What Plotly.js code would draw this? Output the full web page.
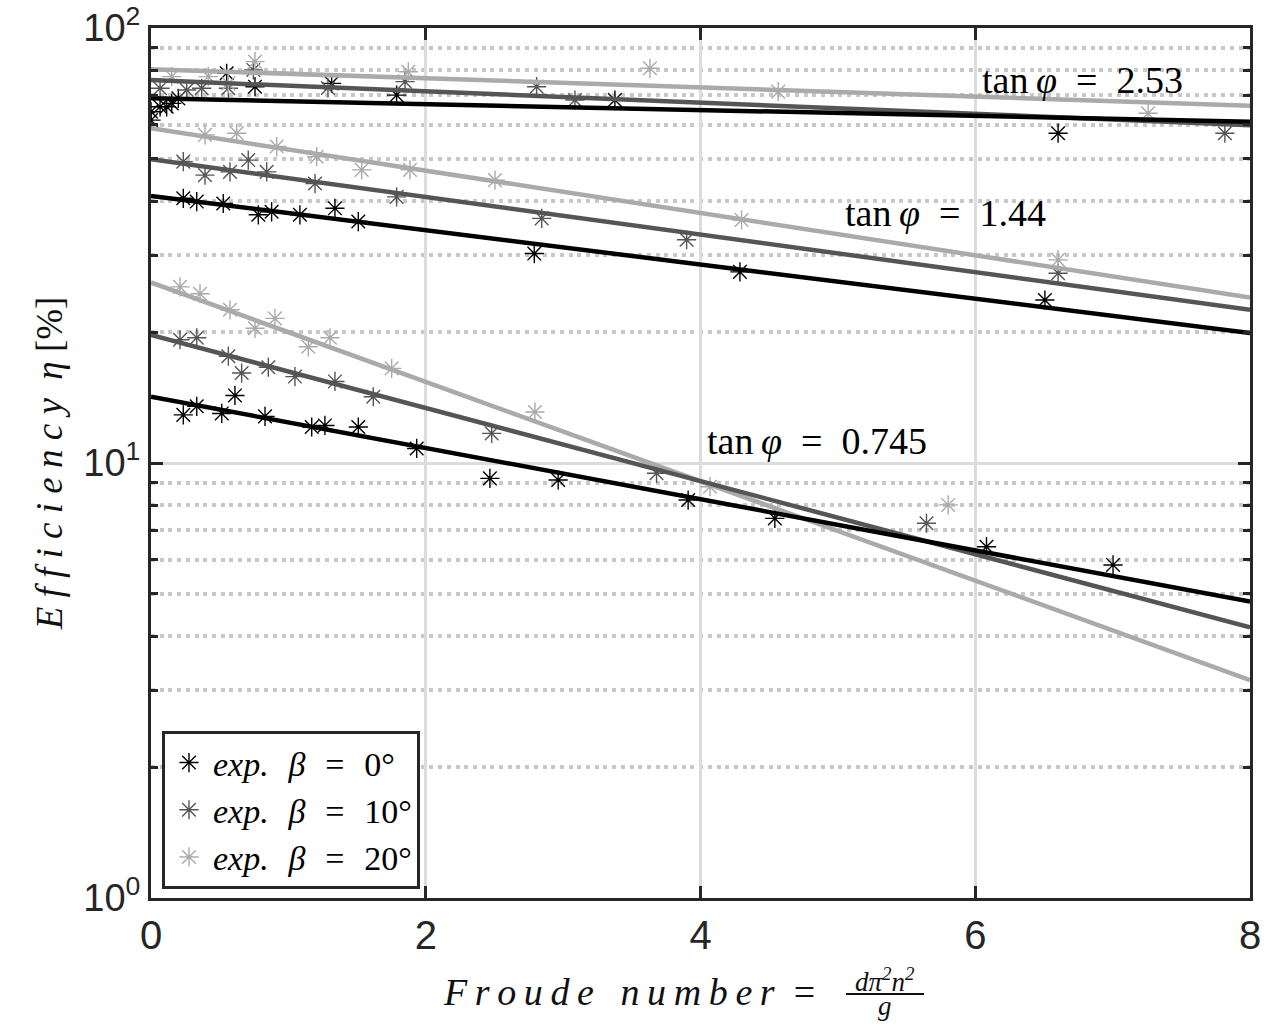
<!DOCTYPE html>
<html>
<head>
<meta charset="utf-8">
<script src="https://cdn.plot.ly/plotly-3.0.1.min.js"></script>
<style>html,body{margin:0;padding:0;background:#fff}</style>
</head>
<body>
<div id="chart" style="width:1270px;height:1025px"></div>
<script>
// ---- data ----
const b0_x = [0, 0, 0.066, 0.114, 0.151, 0.199, 0.551, 0.757, 1.315, 1.788, 3.377, 6.603,
  0.235, 0.333, 0.526, 0.781, 0.878, 1.084, 1.339, 1.509, 2.79, 4.287, 6.507,
  0.235, 0.333, 0.515, 0.611, 0.83, 1.17, 1.266, 1.509, 1.934, 2.467, 2.964, 3.91, 4.541, 6.082, 7.003];
const b0_y = [64.2, 61.4, 65.9, 65.9, 67.1, 68.9, 78.7, 73.3, 74.6, 70.1, 68.3, 57.3,
  40.6, 39.9, 39.5, 37.2, 37.8, 37.2, 38.5, 35.9, 30.3, 27.5, 23.7,
  12.9, 13.5, 13.0, 14.3, 12.8, 12.1, 12.2, 12.1, 10.8, 9.22, 9.14, 8.22, 7.46, 6.42, 5.83];
const b10_x = [0.066, 0.26, 0.369, 0.563, 0.745, 1.288, 1.849, 2.807, 3.086, 7.817,
  0.235, 0.393, 0.575, 0.708, 0.842, 1.194, 1.788, 2.844, 3.899, 6.603,
  0.211, 0.333, 0.563, 0.66, 0.854, 1.048, 1.339, 1.618, 2.48, 3.68, 5.645];
const b10_y = [72.7, 72.0, 72.7, 72.7, 80.1, 72.8, 75.3, 73.3, 68.3, 57.3,
  49.3, 45.9, 46.7, 49.7, 46.7, 43.9, 40.9, 36.5, 32.6, 27.3,
  19.2, 19.4, 17.6, 16.1, 16.6, 15.8, 15.4, 14.2, 11.7, 9.47, 7.27];
const b20_x = [0.151, 0.417, 0.563, 0.757, 1.873, 3.632, 4.566, 7.258,
  0.393, 0.624, 0.915, 1.206, 1.534, 1.885, 2.504, 4.299, 6.603,
  0.211, 0.357, 0.575, 0.757, 0.902, 1.145, 1.303, 1.752, 2.795, 4.069, 5.803];
const b20_y = [77.3, 77.3, 74.6, 83.7, 79.3, 80.8, 71.4, 63.7,
  56.8, 57.3, 53.4, 50.6, 47.2, 47.2, 44.7, 36.2, 29.3,
  25.4, 24.5, 22.5, 20.4, 21.5, 18.5, 19.4, 16.5, 13.1, 8.82, 8.01];

// fitted exponential lines (value at x = 0 and x = 8)
const fitX = [0, 8];
const fit253_b0 = [68.9, 60.9];
const fit253_b10 = [75.9, 59.8];
const fit253_b20 = [80.4, 66.3];
const fit144_b0 = [41.1, 19.9];
const fit144_b10 = [49.9, 22.5];
const fit144_b20 = [58.8, 24.0];
const fit0745_b0 = [14.2, 4.80];
const fit0745_b10 = [19.7, 4.19];
const fit0745_b20 = [26.0, 3.17];

const SP = "\u2002\u200A";
const legendNames = ["<i>exp.</i>" + SP + "<i>β</i>" + SP + "=" + SP + "0°",
                     "<i>exp.</i>" + SP + "<i>β</i>" + SP + "=" + SP + "10°",
                     "<i>exp.</i>" + SP + "<i>β</i>" + SP + "=" + SP + "20°"];
const xTicks = [0, 2, 4, 6, 8];
const yTicks = [1, 10, 100];
const yTickText = ["10<sup>0</sup>", "10<sup>1</sup>", "10<sup>2</sup>"];
const yMinor = [2,3,4,5,6,7,8,9,20,30,40,50,60,70,80,90];
const annTexts = ["tan\u2009<i>φ</i>\u2002=\u20022.53", "tan\u2009<i>φ</i>\u2002=\u20021.44", "tan\u2009<i>φ</i>\u2002=\u20020.745"];

// ---- styling ----
const C0 = "#000000", C10 = "#555555", C20 = "#aaaaaa";
const AX = "#262626";

function markers(x, y, name, color, grp) {
  return {x: x, y: y, type: "scatter", mode: "markers", name: name, legendgroup: grp,
    marker: {symbol: "asterisk-open", size: 16, color: color, line: {color: color, width: 1.4}}};
}
function fit(y, color) {
  return {x: fitX, y: y, type: "scatter", mode: "lines", showlegend: false, hoverinfo: "skip",
    line: {color: color, width: 4.5}};
}

const data = [
  markers(b0_x, b0_y, legendNames[0], C0, "g0"),
  markers(b10_x, b10_y, legendNames[1], C10, "g1"),
  markers(b20_x, b20_y, legendNames[2], C20, "g2"),
  fit(fit253_b20, C20), fit(fit253_b10, C10), fit(fit253_b0, C0),
  fit(fit144_b20, C20), fit(fit144_b10, C10), fit(fit144_b0, C0),
  fit(fit0745_b20, C20), fit(fit0745_b10, C10), fit(fit0745_b0, C0)
];

const serif = "Liberation Serif, Times New Roman, serif";
const sans = "Liberation Sans, Arial, sans-serif";

const layout = {
  width: 1270, height: 1025,
  margin: {l: 151, r: 20, t: 28, b: 127},
  paper_bgcolor: "#fff", plot_bgcolor: "#fff",
  showlegend: true,
  legend: {x: 0.01, y: 0.192, xanchor: "left", yanchor: "top",
    bgcolor: "#fff", bordercolor: AX, borderwidth: 3,
    font: {family: serif, size: 34, color: "#000"},
    traceorder: "grouped", tracegroupgap: 0, itemwidth: 38},
  xaxis: {
    type: "linear", range: [0, 8], tickmode: "array", tickvals: xTicks,
    ticks: "inside", ticklen: 12, tickwidth: 3, tickcolor: AX,
    showline: true, linecolor: AX, linewidth: 3, mirror: "allticks",
    showgrid: true, gridcolor: "#dcdcdc", gridwidth: 3, zeroline: false,
    tickfont: {family: sans, size: 40, color: AX}
  },
  yaxis: {
    type: "log", range: [0, 2], tickmode: "array", tickvals: yTicks, ticktext: yTickText,
    ticks: "inside", ticklen: 12, tickwidth: 3, tickcolor: AX,
    showline: true, linecolor: AX, linewidth: 3, mirror: "allticks",
    showgrid: true, gridcolor: "#dcdcdc", gridwidth: 3, zeroline: false,
    ticklabeloverflow: "allow",
    tickfont: {family: sans, size: 38, color: AX},
    minor: {tickmode: "array", tickvals: yMinor, ticks: "inside", ticklen: 7, tickwidth: 3, tickcolor: AX,
      showgrid: true, gridcolor: "#c8c8c8", gridwidth: 4, griddash: "4px,4.7px"},
    title: {text: "<i>E\u2005f\u2005f\u2005i\u2005c\u2005i\u2005e\u2005n\u2005c\u2005y\u2002η</i>\u2005[%]",
      font: {family: serif, size: 37, color: "#111"}, standoff: 10}
  },
  annotations: [
    {xref: "x", yref: "y", x: 6.78, y: 1.880, text: annTexts[0], showarrow: false,
      font: {family: serif, size: 38, color: "#000"}, xanchor: "center", yanchor: "middle"},
    {xref: "x", yref: "y", x: 5.78, y: 1.574, text: annTexts[1], showarrow: false,
      font: {family: serif, size: 38, color: "#000"}, xanchor: "center", yanchor: "middle"},
    {xref: "x", yref: "y", x: 4.85, y: 1.050, text: annTexts[2], showarrow: false,
      font: {family: serif, size: 38, color: "#000"}, xanchor: "center", yanchor: "middle"},
    {xref: "paper", yref: "paper", x: 0.6063, y: -0.108, xanchor: "right", yanchor: "middle",
      text: "<i>F\u2009r\u2009o\u2009u\u2009d\u2009e\u2002\u2009n\u2009u\u2009m\u2009b\u2009e\u2009r</i>\u2002=",
      showarrow: false, font: {family: serif, size: 38, color: "#111"}},
    {xref: "paper", yref: "paper", x: 0.668, y: -0.0943, xanchor: "center", yanchor: "middle",
      text: "<i>dπ<sup>2</sup>n<sup>2</sup></i>", showarrow: false,
      font: {family: serif, size: 27, color: "#111"}},
    {xref: "paper", yref: "paper", x: 0.668, y: -0.1245, xanchor: "center", yanchor: "middle",
      text: "<i>g</i>", showarrow: false, font: {family: serif, size: 27, color: "#111"}}
  ],
  shapes: [
    {type: "line", xref: "paper", yref: "paper", x0: 0.6324, x1: 0.7034, y0: -0.1103, y1: -0.1103,
      line: {color: "#111", width: 2}}
  ]
};

Plotly.newPlot("chart", data, layout, {displayModeBar: false, staticPlot: true});
</script>
</body>
</html>
